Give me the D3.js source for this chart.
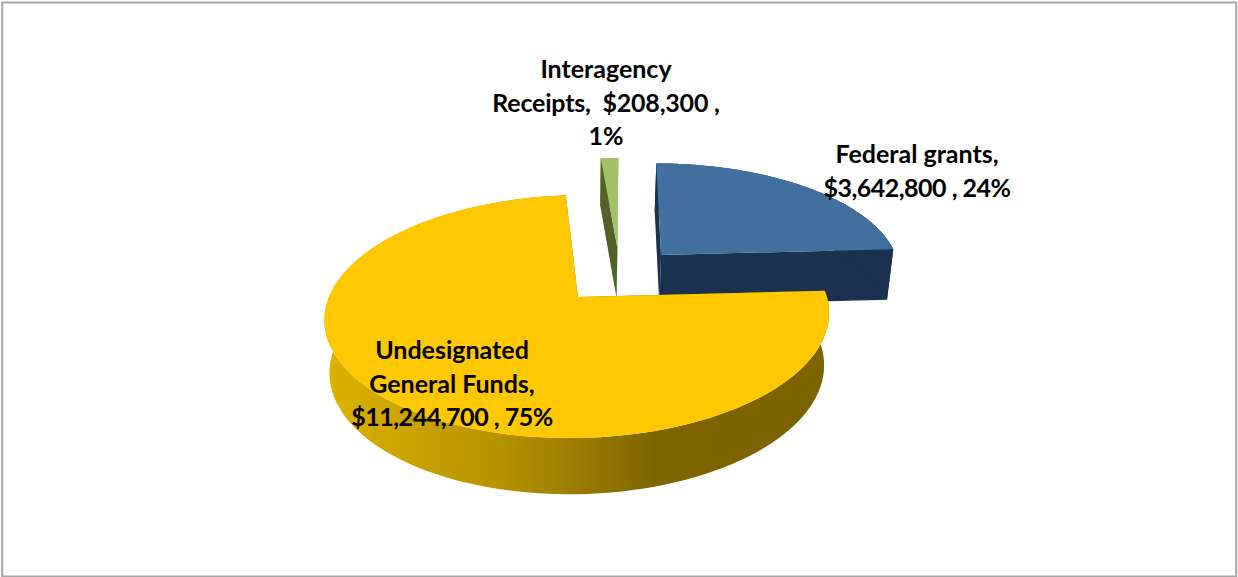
<!DOCTYPE html>
<html>
<head>
<meta charset="utf-8">
<title>Funding sources</title>
<script src="https://cdn.jsdelivr.net/npm/d3@7"></script>
<style>
  html, body { margin: 0; padding: 0; background: #fff; }
  svg { display: block; }
  text { font-family: Lato, "Noto Sans", sans-serif; font-weight: 700; fill: #000; text-anchor: middle; }
</style>
</head>
<body>
<svg id="chart" width="1238" height="577"></svg>
<script>
// data
var categories = ["Federal grants", "Undesignated General Funds", "Interagency Receipts"];
var amounts = [3642800, 11244700, 208300];
var shares = [24, 75, 1];
var topColors = ["#41709f", "#ffc800", "#a3c267"];
var wallColors = ["#1a3150", "url(#goldWall)", "#4f6228"];

var labelLines = [
  ["Federal grants,", "$3,642,800 , 24%"],
  ["Undesignated", "General Funds,", "$11,244,700 , 75%"],
  ["Interagency", "Receipts,  $208,300 ,", "1%"]
];
var labelCenters = [[917, 163], [452, 359], [606, 78]];
var lineGap = 33.5;
// lines with long numbers run a bit wide in this font
var lineSpacing = [[0, -0.5], [0, 0, -0.47], [0, -0.2, 0]];

// the pie lies on a tilted plane, this is the perspective of that plane
var apexX = 578, apexY = 297;
var planeR = 249, planeB = 118.4, persp = 0.16, shear = 0.03;
var hubX = 0.167, hubY = 0.192, explode = 0.255;

function project(x, y, down) {
  var w = 1 + persp * y;
  var sx = planeR * (x + shear * y) / w;
  var sy = -planeB * y / w;
  if (down) {
    sx = sx * 0.98;
    sy = sy + 30 + 22 / w;
  }
  return [apexX + sx, apexY + sy];
}

var svg = d3.select("#chart");

var grad = svg.append("defs").append("linearGradient")
  .attr("id", "goldWall")
  .attr("gradientUnits", "userSpaceOnUse")
  .attr("x1", 326).attr("x2", 830).attr("y1", 0).attr("y2", 0);
grad.append("stop").attr("offset", 0).attr("stop-color", "#dcb200");
grad.append("stop").attr("offset", 0.35).attr("stop-color", "#b59200");
grad.append("stop").attr("offset", 0.65).attr("stop-color", "#7f6500");
grad.append("stop").attr("offset", 1).attr("stop-color", "#7c6300");

svg.append("rect")
  .attr("x", 2.2).attr("y", 2.5).attr("width", 1234).attr("height", 574)
  .attr("fill", "#fff").attr("stroke", "#a6a6a6").attr("stroke-width", 2);

var pie = d3.pie().sort(null).startAngle(0).endAngle(2 * Math.PI);
var arcs = pie(amounts);
var path = d3.line();

arcs.forEach(function (d) {
  var mid = (d.startAngle + d.endAngle) / 2;
  d.cx = hubX + explode * Math.sin(mid);
  d.cy = hubY + explode * Math.cos(mid);
  d.rim = d3.range(0, 121).map(function (i) {
    var a = d.startAngle + (d.endAngle - d.startAngle) * i / 120;
    return [d.cx + Math.sin(a), d.cy + Math.cos(a)];
  });
});

function pts(list, down) {
  return list.map(function (p) { return project(p[0], p[1], down); });
}

// back to front: green, blue, then the gold slice on top
[2, 0, 1].forEach(function (idx) {
  var d = arcs[idx];
  var hub = [d.cx, d.cy];
  var first = d.rim[0], last = d.rim[d.rim.length - 1];
  var g = svg.append("g").attr("class", "slice");

  // the two cut walls and the outside wall
  [[hub, first], [hub, last]].forEach(function (edge) {
    g.append("path")
      .attr("d", path(pts(edge, false).concat(pts(edge, true).reverse())) + "Z")
      .attr("fill", wallColors[idx]);
  });
  g.append("path")
    .attr("d", path(pts(d.rim, false).concat(pts(d.rim, true).reverse())) + "Z")
    .attr("fill", wallColors[idx]);

  g.append("path")
    .attr("d", path(pts([hub].concat(d.rim), false)) + "Z")
    .attr("fill", topColors[idx]);
});

svg.append("g").selectAll("text")
  .data(labelLines)
  .join("text")
  .attr("font-size", 25)
  .each(function (lines, i) {
    d3.select(this).selectAll("tspan")
      .data(lines)
      .join("tspan")
      .attr("xml:space", "preserve")
      .attr("x", labelCenters[i][0])
      .attr("y", function (s, j) { return labelCenters[i][1] + j * lineGap; })
      .attr("letter-spacing", function (s, j) { return lineSpacing[i][j]; })
      .text(function (s) { return s; });
  });
</script>
</body>
</html>
